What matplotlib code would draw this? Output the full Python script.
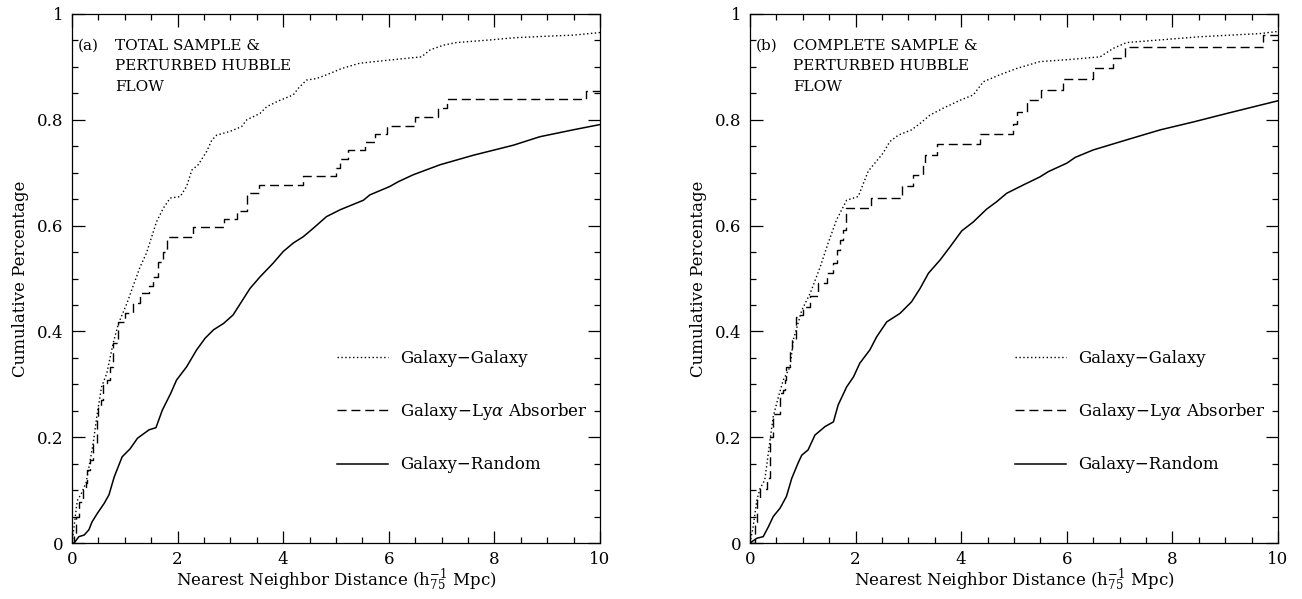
import numpy as np
import matplotlib
matplotlib.use("Agg")
import matplotlib.pyplot as plt
from matplotlib.ticker import MultipleLocator

plt.rcParams["font.family"] = "DejaVu Serif"
plt.rcParams["mathtext.fontset"] = "dejavuserif"

# --- panel (a): total sample ---
a_gg_x = [0.0, 0.07, 0.10, 0.18, 0.27, 0.40, 0.47, 0.56, 0.66, 0.78, 0.88, 1.04, 1.13, 1.29,
          1.41, 1.60, 1.73, 1.86, 2.05, 2.17, 2.27, 2.39, 2.55, 2.65, 2.74, 2.99, 3.21, 3.31,
          3.56, 3.69, 3.94, 4.19, 4.29, 4.44, 4.63, 4.82, 5.11, 5.45, 6.02, 6.62, 6.78, 7.03,
          7.28, 7.92, 8.36, 8.99, 9.49, 10.0]
a_gg_y = [0.0, 0.056, 0.080, 0.094, 0.115, 0.188, 0.239, 0.295, 0.321, 0.378, 0.415, 0.453,
          0.478, 0.522, 0.548, 0.607, 0.633, 0.652, 0.655, 0.674, 0.705, 0.715, 0.740, 0.762,
          0.771, 0.778, 0.787, 0.800, 0.812, 0.825, 0.837, 0.847, 0.860, 0.875, 0.878, 0.885,
          0.897, 0.907, 0.913, 0.919, 0.932, 0.941, 0.946, 0.951, 0.955, 0.958, 0.960, 0.965]

a_lya_x = [0.0, 0.04, 0.07, 0.13, 0.20, 0.26, 0.29, 0.35, 0.40, 0.48, 0.50, 0.54, 0.59, 0.66,
           0.72, 0.78, 0.88, 1.00, 1.16, 1.29, 1.45, 1.54, 1.63, 1.73, 1.79, 2.30, 2.88, 3.12,
           3.32, 3.55, 4.37, 5.00, 5.08, 5.23, 5.55, 5.74, 5.96, 6.50, 6.94, 7.11, 9.73, 10.0]
a_lya_y = [0.0, 0.018, 0.050, 0.078, 0.100, 0.113, 0.138, 0.157, 0.188, 0.233, 0.258, 0.270,
           0.302, 0.308, 0.333, 0.378, 0.418, 0.434, 0.453, 0.472, 0.485, 0.503, 0.532, 0.551,
           0.579, 0.597, 0.612, 0.628, 0.661, 0.677, 0.693, 0.708, 0.725, 0.742, 0.758, 0.773,
           0.789, 0.806, 0.822, 0.839, 0.855, 0.855]

a_rnd_x = [0.0, 0.04, 0.13, 0.23, 0.32, 0.38, 0.48, 0.61, 0.70, 0.80, 0.95, 1.10, 1.24, 1.46,
           1.59, 1.71, 1.87, 1.98, 2.17, 2.36, 2.52, 2.68, 2.87, 3.05, 3.21, 3.37, 3.56, 3.81,
           4.00, 4.19, 4.38, 4.57, 4.82, 5.08, 5.52, 5.64, 6.02, 6.18, 6.46, 6.97, 7.60, 8.36,
           8.86, 9.49, 10.0]
a_rnd_y = [0.0, 0.0, 0.012, 0.015, 0.025, 0.040, 0.056, 0.075, 0.091, 0.125, 0.163, 0.178,
           0.198, 0.214, 0.218, 0.251, 0.283, 0.308, 0.333, 0.365, 0.387, 0.403, 0.415, 0.431,
           0.456, 0.481, 0.503, 0.529, 0.551, 0.567, 0.579, 0.595, 0.617, 0.630, 0.648, 0.658,
           0.674, 0.683, 0.696, 0.715, 0.733, 0.752, 0.768, 0.781, 0.791]

# --- panel (b): complete sample ---
b_gg_x = [0.0, 0.06, 0.13, 0.19, 0.28, 0.38, 0.44, 0.54, 0.63, 0.76, 0.82, 0.98, 1.14, 1.33,
          1.48, 1.64, 1.83, 2.05, 2.24, 2.52, 2.65, 2.81, 3.06, 3.22, 3.41, 3.66, 3.98, 4.23,
          4.42, 4.73, 5.05, 5.49, 6.06, 6.63, 6.88, 7.13, 7.89, 8.52, 9.66, 10.0]
b_gg_y = [0.0, 0.031, 0.081, 0.103, 0.119, 0.195, 0.239, 0.277, 0.308, 0.333, 0.384, 0.440,
          0.472, 0.522, 0.567, 0.611, 0.648, 0.655, 0.703, 0.737, 0.759, 0.771, 0.781, 0.793,
          0.809, 0.822, 0.837, 0.847, 0.872, 0.885, 0.897, 0.910, 0.914, 0.919, 0.935, 0.946,
          0.952, 0.957, 0.963, 0.967]

b_lya_x = [0.0, 0.10, 0.13, 0.19, 0.32, 0.38, 0.44, 0.57, 0.63, 0.66, 0.69, 0.76, 0.79, 0.88,
           0.95, 1.01, 1.14, 1.29, 1.45, 1.58, 1.64, 1.70, 1.77, 1.82, 2.29, 2.87, 3.09, 3.28,
           3.31, 3.54, 4.36, 4.99, 5.05, 5.24, 5.52, 5.93, 6.50, 6.88, 7.10, 9.72, 10.0]
b_lya_y = [0.0, 0.040, 0.081, 0.103, 0.122, 0.201, 0.243, 0.283, 0.289, 0.308, 0.333, 0.365,
           0.384, 0.428, 0.431, 0.447, 0.466, 0.491, 0.510, 0.529, 0.554, 0.573, 0.592, 0.633,
           0.652, 0.674, 0.696, 0.715, 0.733, 0.754, 0.774, 0.793, 0.815, 0.837, 0.856, 0.877,
           0.897, 0.916, 0.938, 0.960, 0.960]

b_rnd_x = [0.0, 0.13, 0.25, 0.35, 0.44, 0.57, 0.69, 0.79, 0.91, 0.98, 1.10, 1.23, 1.42, 1.58,
           1.67, 1.83, 1.96, 2.08, 2.27, 2.40, 2.59, 2.84, 3.06, 3.22, 3.38, 3.60, 3.79, 4.01,
           4.23, 4.48, 4.67, 4.86, 5.18, 5.49, 5.65, 6.00, 6.16, 6.50, 7.13, 7.77, 8.40, 9.03,
           10.0]
b_rnd_y = [0.0, 0.009, 0.012, 0.031, 0.050, 0.066, 0.088, 0.122, 0.151, 0.166, 0.176, 0.204,
           0.220, 0.229, 0.261, 0.295, 0.314, 0.340, 0.365, 0.390, 0.418, 0.434, 0.456, 0.481,
           0.510, 0.535, 0.560, 0.590, 0.607, 0.631, 0.645, 0.661, 0.677, 0.692, 0.702, 0.718,
           0.729, 0.743, 0.762, 0.781, 0.796, 0.812, 0.836]

panel_titles = ["TOTAL SAMPLE &\nPERTURBED HUBBLE\nFLOW",
                "COMPLETE SAMPLE &\nPERTURBED HUBBLE\nFLOW"]
panel_tags = ["(a)", "(b)"]
series_labels = ["Galaxy\u2212Galaxy", r"Galaxy$-$Ly$\alpha$ Absorber", "Galaxy\u2212Random"]

FS = 12        # axis labels, ticks, legend
FS_TITLE = 11

fig = plt.figure(figsize=(13.02, 5.99), dpi=100)
ax_a = fig.add_axes([72 / 1302, 56 / 599, 528 / 1302, 529 / 599])
ax_b = fig.add_axes([750 / 1302, 56 / 599, 528 / 1302, 529 / 599])

panels = [
    (ax_a, (a_gg_x, a_gg_y), (a_lya_x, a_lya_y), (a_rnd_x, a_rnd_y)),
    (ax_b, (b_gg_x, b_gg_y), (b_lya_x, b_lya_y), (b_rnd_x, b_rnd_y)),
]

for i, (ax, gg, lya, rnd) in enumerate(panels):
    ax.plot(gg[0], gg[1], color="black", lw=1.0, linestyle=(0, (1, 1.8)),
            label=series_labels[0])
    ax.plot(lya[0], lya[1], color="black", lw=1.0, linestyle=(0, (6.5, 3.5)),
            drawstyle="steps-post", label=series_labels[1])
    ax.plot(rnd[0], rnd[1], color="black", lw=1.1, label=series_labels[2])

    ax.set_xlim(0, 10)
    ax.set_ylim(0, 1)
    ax.xaxis.set_major_locator(MultipleLocator(2))
    ax.xaxis.set_minor_locator(MultipleLocator(0.5))
    ax.yaxis.set_major_locator(MultipleLocator(0.2))
    ax.yaxis.set_minor_locator(MultipleLocator(0.05))
    ax.xaxis.set_major_formatter(plt.FuncFormatter(lambda v, p: f"{v:g}"))
    ax.yaxis.set_major_formatter(plt.FuncFormatter(lambda v, p: f"{v:g}"))
    ax.tick_params(which="both", direction="in", top=True, right=True, width=0.9,
                   labelsize=FS, pad=6)
    ax.tick_params(which="major", length=9)
    ax.tick_params(which="minor", length=4.5)
    for s in ax.spines.values():
        s.set_linewidth(0.9)

    ax.set_xlabel(r"Nearest Neighbor Distance (h$_{75}^{-1}$ Mpc)", fontsize=FS)
    ax.set_ylabel("Cumulative Percentage", fontsize=FS)
    ax.xaxis.set_label_coords(0.5, -0.046)
    ax.yaxis.set_label_coords(-0.082, 0.5)

    ax.text(0.11, 0.953, panel_tags[i], fontsize=FS_TITLE, ha="left", va="top")
    ax.text(0.81, 0.953, panel_titles[i], fontsize=FS_TITLE, ha="left", va="top",
            linespacing=1.6)

    ax.legend(loc="center left", bbox_to_anchor=(0.501, 0.248), frameon=False,
              fontsize=FS, handlelength=3.1, handletextpad=0.7, labelspacing=2.05,
              borderpad=0, borderaxespad=0)

fig.savefig("out.png", dpi=100)
